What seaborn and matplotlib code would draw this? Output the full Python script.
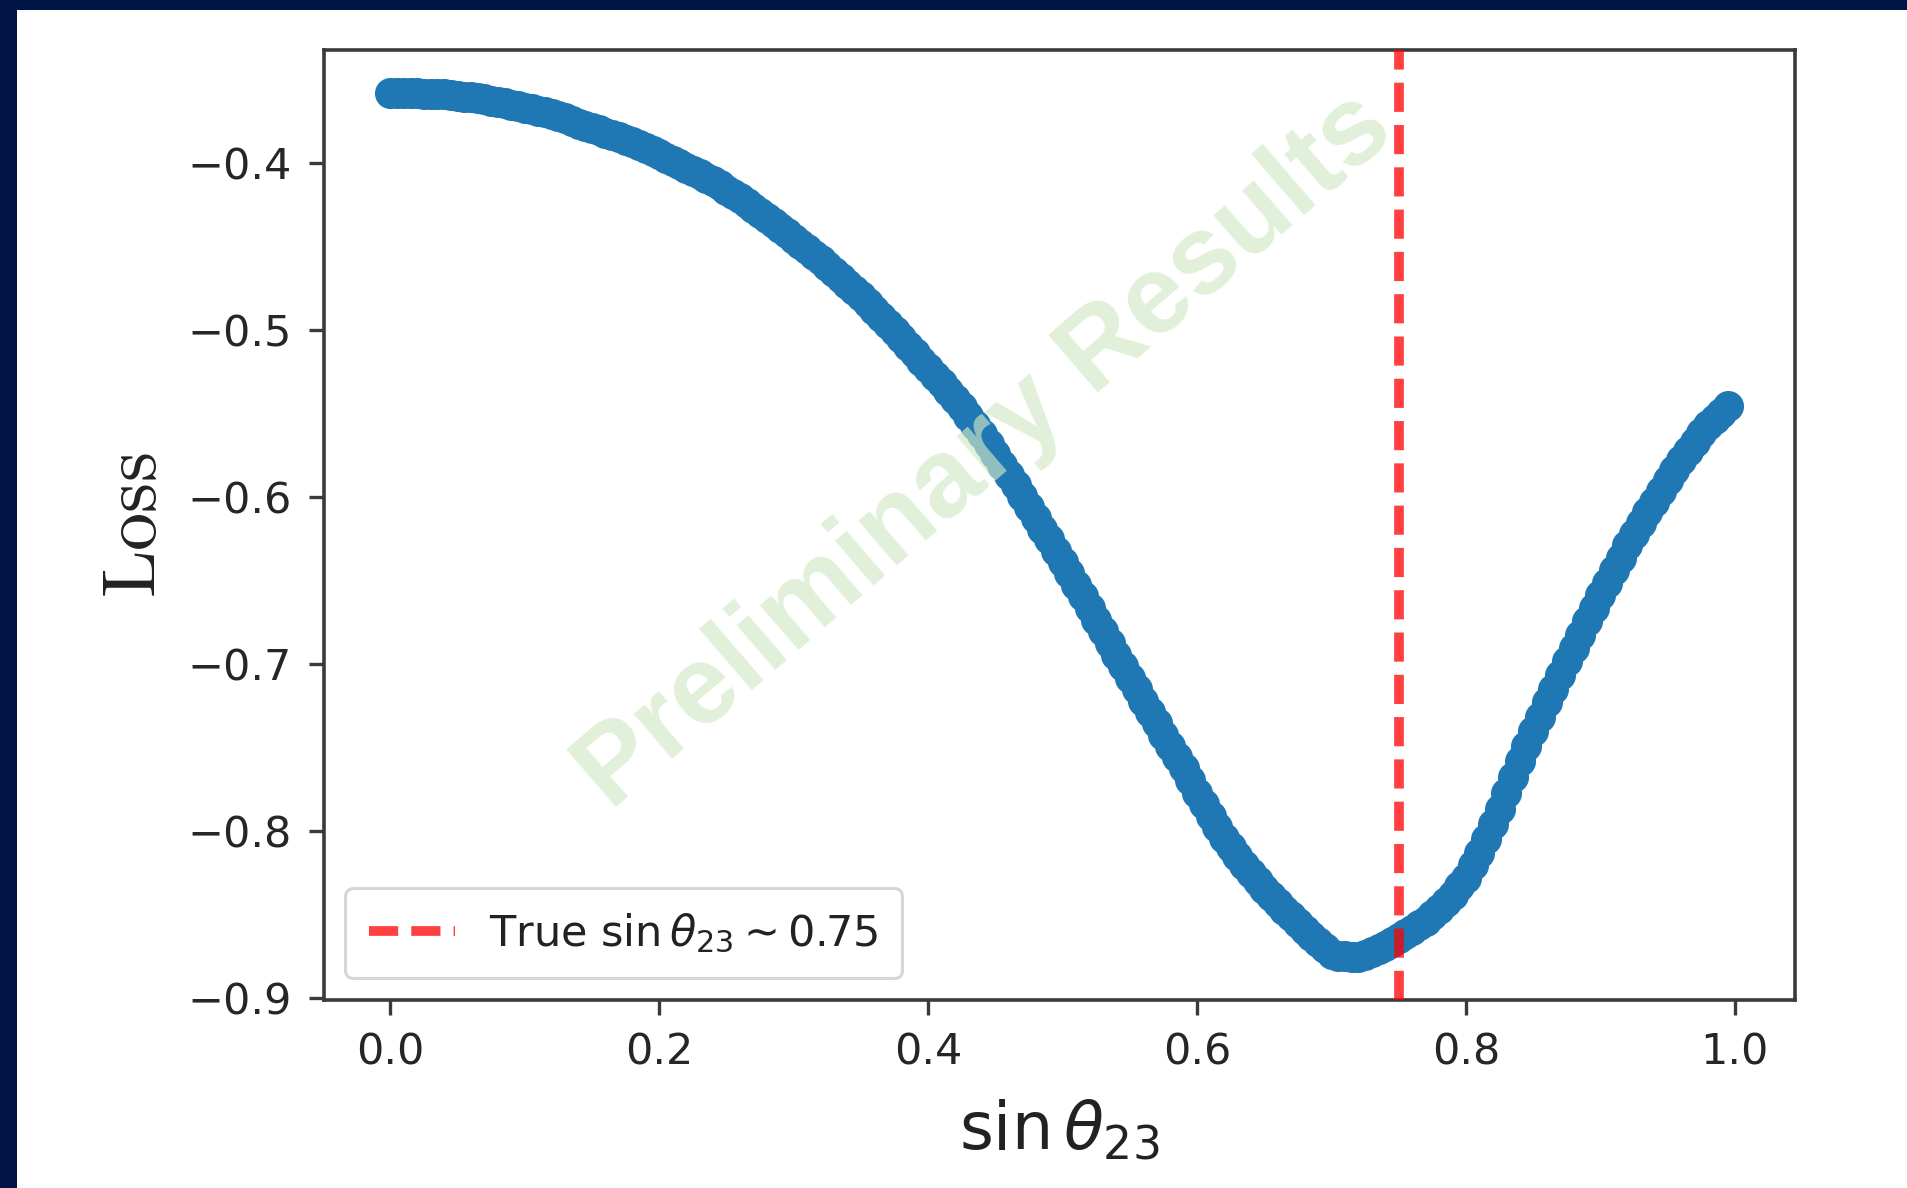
import numpy as np
import pandas as pd
import matplotlib
matplotlib.use("Agg")
import matplotlib.pyplot as plt
from matplotlib.patches import Rectangle
import seaborn as sns

loss = [
    -0.3585, -0.3585, -0.3585, -0.3585, -0.3586, -0.3587, -0.3588, -0.3589, -0.3590, -0.3594,
    -0.3600, -0.3605, -0.3610, -0.3616, -0.3622, -0.3629, -0.3636, -0.3645, -0.3655, -0.3663,
    -0.3672, -0.3681, -0.3690, -0.3700, -0.3710, -0.3722, -0.3735, -0.3752, -0.3770, -0.3782,
    -0.3795, -0.3808, -0.3822, -0.3836, -0.3850, -0.3865, -0.3880, -0.3896, -0.3912, -0.3931,
    -0.3950, -0.3970, -0.3990, -0.4010, -0.4030, -0.4050, -0.4070, -0.4090, -0.4110, -0.4136,
    -0.4162, -0.4188, -0.4215, -0.4242, -0.4270, -0.4300, -0.4330, -0.4361, -0.4393, -0.4424,
    -0.4455, -0.4487, -0.4520, -0.4552, -0.4585, -0.4620, -0.4655, -0.4690, -0.4725, -0.4762,
    -0.4800, -0.4840, -0.4880, -0.4922, -0.4965, -0.5007, -0.5050, -0.5095, -0.5140, -0.5185,
    -0.5230, -0.5275, -0.5320, -0.5367, -0.5415, -0.5465, -0.5515, -0.5570, -0.5625, -0.5685,
    -0.5745, -0.5807, -0.5870, -0.5932, -0.5995, -0.6060, -0.6125, -0.6190, -0.6255, -0.6322,
    -0.6390, -0.6457, -0.6525, -0.6595, -0.6665, -0.6735, -0.6805, -0.6875, -0.6945, -0.7015,
    -0.7085, -0.7152, -0.7220, -0.7287, -0.7355, -0.7422, -0.7490, -0.7557, -0.7625, -0.7697,
    -0.7770, -0.7840, -0.7910, -0.7977, -0.8040, -0.8097, -0.8150, -0.8200, -0.8250, -0.8298,
    -0.8345, -0.8388, -0.8430, -0.8470, -0.8510, -0.8550, -0.8590, -0.8628, -0.8665, -0.8702,
    -0.8735, -0.8745, -0.8750, -0.8752, -0.8752, -0.8740, -0.8725, -0.8705, -0.8685, -0.8663,
    -0.8640, -0.8615, -0.8590, -0.8563, -0.8535, -0.8500, -0.8465, -0.8423, -0.8380, -0.8330,
    -0.8280, -0.8205, -0.8130, -0.8045, -0.7960, -0.7865, -0.7770, -0.7675, -0.7580, -0.7490,
    -0.7400, -0.7315, -0.7230, -0.7147, -0.7065, -0.6985, -0.6905, -0.6825, -0.6745, -0.6667,
    -0.6590, -0.6513, -0.6437, -0.6363, -0.6290, -0.6222, -0.6155, -0.6092, -0.6030, -0.5965,
    -0.5900, -0.5840, -0.5780, -0.5725, -0.5670, -0.5620, -0.5570, -0.5535, -0.5500, -0.5456,
]
sin_theta = [round(0.005 * i, 3) for i in range(len(loss))]
true_value = 0.75
legend_label = r"True $\sin\theta_{23} \sim 0.75$"
x_label = r"$\sin\theta_{23}$"
y_label = r"$\mathrm{Loss}$"
x_ticks = [0.0, 0.2, 0.4, 0.6, 0.8, 1.0]
y_ticks = [-0.9, -0.8, -0.7, -0.6, -0.5, -0.4]
watermark = "Preliminary Results"

df = pd.DataFrame({"sin_theta": sin_theta, "loss": loss})

W, H = 1907, 1188
fig = plt.figure(figsize=(W / 100, H / 100), dpi=100, facecolor="#011446")
fig.patches.append(Rectangle((17 / W, 0), 1, 1 - 10 / H, transform=fig.transFigure,
                             facecolor="white", edgecolor="none", zorder=-1))

ax = fig.add_axes([323.5 / W, 1 - 1000 / H, (1795 - 323.5) / W, (1000 - 50) / H])
ax.set_facecolor("white")

sns.scatterplot(data=df, x="sin_theta", y="loss", s=500, color="#1f77b4",
                linewidth=0, ax=ax, zorder=2, legend=False)
ax.axvline(true_value, color="red", alpha=0.75, lw=7, dashes=(3.0, 1.35),
           label=legend_label, zorder=3)

ax.set_xticks(x_ticks)
ax.set_yticks(y_ticks)
ax.set_xticklabels([f"{v:.1f}" for v in x_ticks])
ax.set_yticklabels([f"\u2212{abs(v):.1f}" for v in y_ticks])
ax.margins(x=0.05, y=0.05)

for s in ax.spines.values():
    s.set_color("#3a3a3a")
    s.set_linewidth(2.6)
ax.tick_params(axis="both", direction="out", length=11, width=2.4, color="#3a3a3a",
               labelsize=31, labelcolor="#262626", pad=12)

ax.set_xlabel(x_label, fontsize=47, color="#222222", labelpad=18)
ax.set_ylabel(y_label, fontsize=55, color="#222222", labelpad=11, math_fontfamily="cm")

leg = ax.legend(loc="lower left", fontsize=31, frameon=True, fancybox=True,
                handlelength=2.0, borderaxespad=0.5, borderpad=0.55)
leg.get_frame().set_edgecolor("#cccccc")
leg.get_frame().set_linewidth(2.2)
for t in leg.get_texts():
    t.set_color("#222222")

fig.text(985 / W, 1 - 452 / H, watermark, rotation=40.7, ha="center", va="center",
         rotation_mode="anchor", fontsize=80, fontweight="bold",
         family=["Liberation Sans", "DejaVu Sans"],
         color=(210 / 255, 232 / 255, 198 / 255, 0.65), zorder=10)

fig.savefig("out.png", dpi=100, facecolor=fig.get_facecolor())
